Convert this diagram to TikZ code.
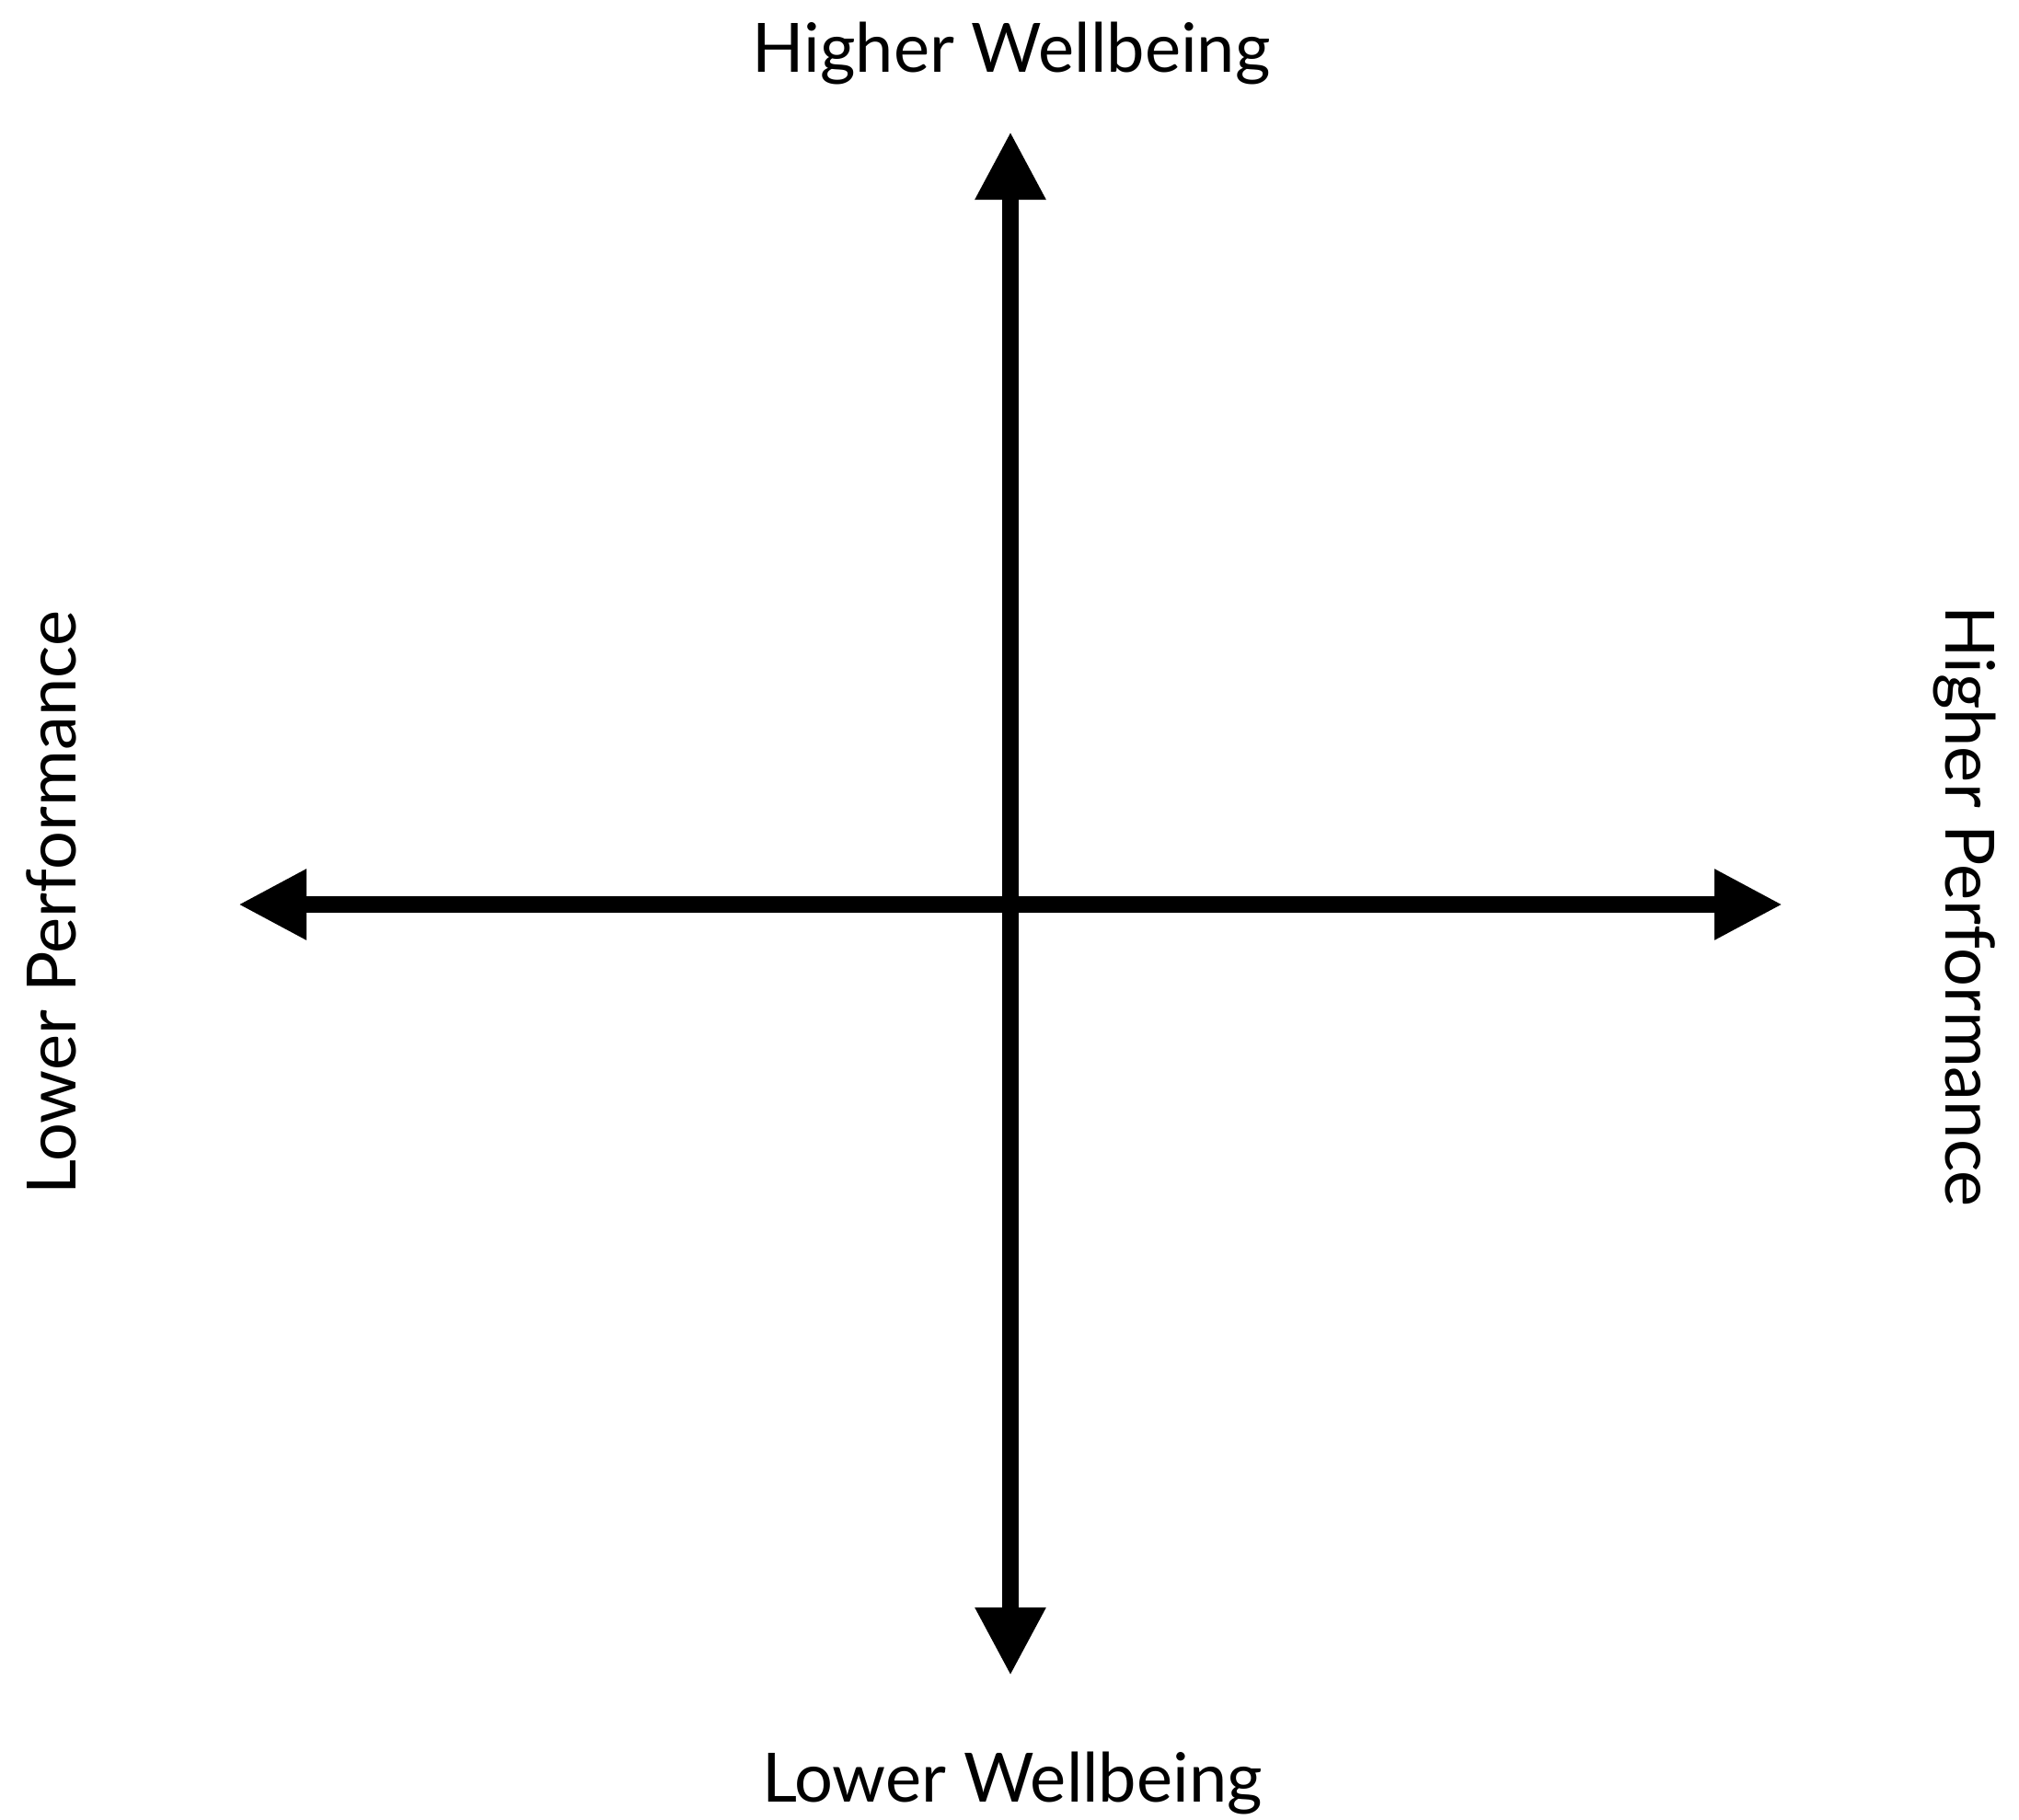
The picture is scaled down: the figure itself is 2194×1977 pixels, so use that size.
\documentclass[tikz,border=0pt]{standalone}
\usepackage{fontspec}
\setmainfont{Lato}
\usetikzlibrary{arrows.meta}
\begin{document}
\begin{tikzpicture}[x=0.5pt,y=-0.5pt,
  axis/.style={line width=9pt,-{Triangle[length=37pt,width=36pt]}},
  axislabel/.style={inner sep=0pt,anchor=base,font=\fontsize{37pt}{44pt}\selectfont}]
\useasboundingbox[fill=white] (0,0) rectangle (2194,1977);
\coordinate (c) at (1098,983);
\coordinate (top) at (1098,143);
\coordinate (bottom) at (1098,1821);
\coordinate (left) at (259,983);
\coordinate (right) at (1937,983);
\draw[axis] (c) -- (top);
\draw[axis] (c) -- (bottom);
\draw[axis] (c) -- (left);
\draw[axis] (c) -- (right);
\draw[line width=9pt] (1098,980) -- (1098,986);
\node[axislabel] (hw) at (1099,78) {Higher Wellbeing};
\node[axislabel] (lw) at (1100,1958) {Lower Wellbeing};
\node[axislabel,rotate=90] (lp) at (82,981) {Lower Performance};
\node[axislabel,rotate=-90] (hp) at (2114,985) {Higher Performance};
\end{tikzpicture}
\end{document}
